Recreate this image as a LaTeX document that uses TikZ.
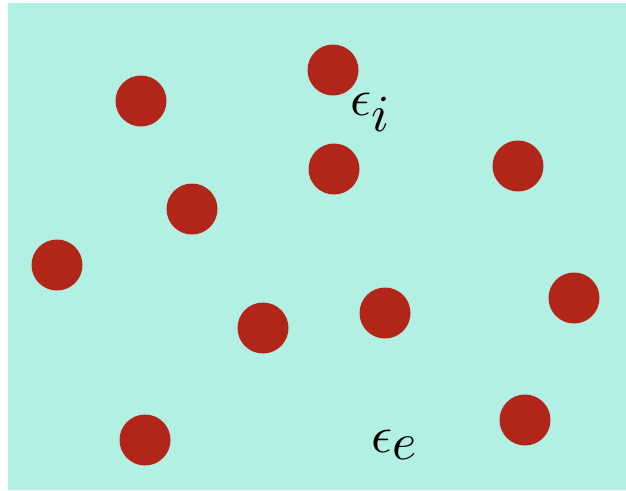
\documentclass[tikz,border=0pt]{standalone}
\usepackage{graphicx}
\usepackage{xcolor}
\usepackage{amsmath}
\usepackage{tikz}
\usetikzlibrary{positioning}
\definecolor{hostmint}{RGB}{178, 240, 228}
\definecolor{inclred}{RGB}{178, 38, 26}
\newcommand{\bigperm}[1]{\scalebox{5.2}{$\epsilon_{\textstyle #1}$}}

\begin{document}
\begin{tikzpicture}[
    x=1pt, y=-1pt,
    inclusion/.style={circle, fill=inclred, minimum size=51pt, inner sep=0pt},
    permlabel/.style={anchor=base west, inner sep=0pt}
]
\useasboundingbox (0,0) rectangle (626,490);

% Host medium
\fill[hostmint] (8,3) rectangle (626,490);

% Inclusions
\node[inclusion] (c1) at (333, 70) {};
\node[inclusion] (c2) at (141, 101) {};
\node[inclusion] (c3) at (334, 169) {};
\node[inclusion] (c4) at (518, 166) {};
\node[inclusion] (c5) at (192, 209) {};
\node[inclusion] (c6) at (57, 265) {};
\node[inclusion] (c7) at (263, 328) {};
\node[inclusion] (c8) at (385, 313) {};
\node[inclusion] (c9) at (574, 298) {};
\node[inclusion] (c10) at (145, 440) {};
\node[inclusion] (c11) at (525, 420) {};

% Permittivities
\node[permlabel] (epsi) at (350, 115) {\bigperm{i}};
\node[permlabel] (epse) at (371, 452) {\bigperm{e}};

\end{tikzpicture}
\end{document}
